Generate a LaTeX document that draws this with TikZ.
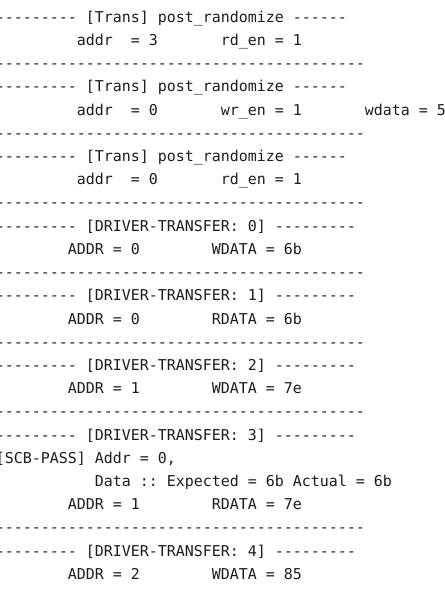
\documentclass[tikz,border=0pt]{standalone}
\usepackage{fontspec}
\newfontfamily\consolefont{DejaVu Sans Mono}
\usetikzlibrary{positioning}
\definecolor{consoletext}{HTML}{1C1C1C}
\newcommand{\logsep}{-----------------------------------------} % 41 dashes
\newcommand{\transhead}{---------~[Trans]~post\_randomize~------}
\newcommand{\drvhead}[1]{---------~[DRIVER-TRANSFER:~#1]~---------}
\tikzset{
x=9pt, % one character cell
y=-23.21pt, % one console row
logline/.style={anchor=base west, inner sep=0pt, text=consoletext,
  font=\consolefont\fontsize{14.95}{18}\selectfont\frenchspacing}, % every printed line
}

\begin{document}
\begin{tikzpicture}
        \useasboundingbox (0pt,0pt) rectangle (445pt,-590pt);
        \fill[white] (0pt,0pt) rectangle (445pt,-590pt);
        \clip (0pt,0pt) rectangle (445pt,-590pt);
        \begin{scope}[shift={(-4.3pt,-22.3pt)}]
        % separators
        \foreach \r in {2,5,8,11,14,17,22}
            \node[logline] (sep\r) at (0,\r) {\logsep};

        \node[logline] (trans1) at (0,0) {\transhead};
        \node[logline] (trans1a) at (9,1) {addr~~=~3~~~~~~~rd\_en~=~1};
        \node[logline] (trans2) at (0,3) {\transhead};
        \node[logline] (trans2a) at (9,4) {addr~~=~0~~~~~~~wr\_en~=~1~~~~~~~wdata~=~5};
        \node[logline] (trans3) at (0,6) {\transhead};
        \node[logline] (trans3a) at (9,7) {addr~~=~0~~~~~~~rd\_en~=~1};

        \node[logline] (drv0) at (0,9) {\drvhead{0}};
        \node[logline] (drv0a) at (8,10) {ADDR~=~0~~~~~~~~WDATA~=~6b};
        \node[logline] (drv1) at (0,12) {\drvhead{1}};
        \node[logline] (drv1a) at (8,13) {ADDR~=~0~~~~~~~~RDATA~=~6b};
        \node[logline] (drv2) at (0,15) {\drvhead{2}};
        \node[logline] (drv2a) at (8,16) {ADDR~=~1~~~~~~~~WDATA~=~7e};
        \node[logline] (drv3) at (0,18) {\drvhead{3}};
        \node[logline] (scb) at (0,19) {[SCB-PASS]~Addr~=~0,};
        \node[logline] (scbdata) at (11,20) {Data~::~Expected~=~6b~Actual~=~6b};
        \node[logline] (drv3a) at (8,21) {ADDR~=~1~~~~~~~~RDATA~=~7e};
        \node[logline] (drv4) at (0,23) {\drvhead{4}};
        \node[logline] (drv4a) at (8,24) {ADDR~=~2~~~~~~~~WDATA~=~85};
        \end{scope}
\end{tikzpicture}
\end{document}
